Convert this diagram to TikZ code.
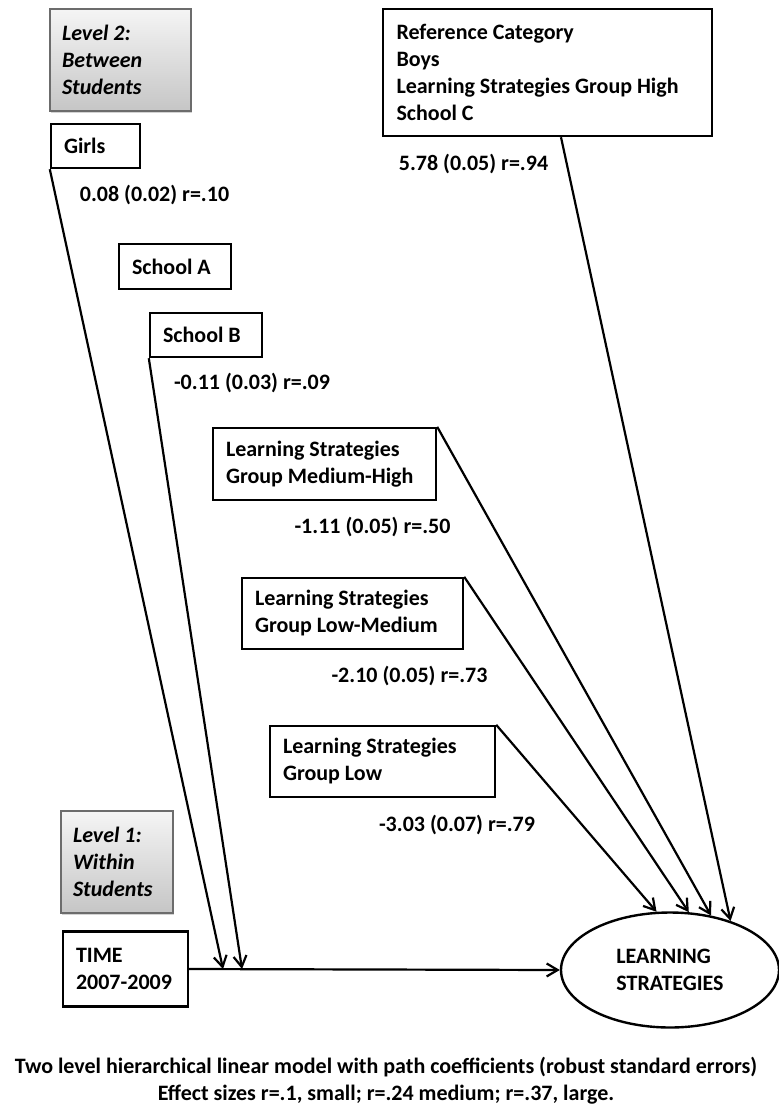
\documentclass[tikz,border=0pt]{standalone}
\usepackage{fontspec}
\setmainfont{Carlito}
\usetikzlibrary{arrows.meta,shadows,shapes.geometric}

\tikzset{
  varbox/.style={draw, line width=2.4pt, align=flush left, inner xsep=13pt, inner ysep=4pt},
  levelbox/.style={draw=gray!85!black, line width=1.4pt, align=flush left, inner xsep=12pt,
    top color=gray!8, bottom color=gray!45,
    drop shadow={shadow xshift=1pt, shadow yshift=-2pt, opacity=0.35},
    font=\fontsize{22}{27}\selectfont\bfseries\itshape},
  coef/.style={inner sep=0pt},
  effect/.style={line width=2.2pt, -{Straight Barb[length=11pt, width=13pt, line width=2.2pt]}}
}

\begin{document}
\begin{tikzpicture}[x=1pt, y=-1pt, font=\fontsize{22}{27}\selectfont\bfseries]
	\useasboundingbox (0,0) rectangle (779,1106);
	% level boxes
	\node[levelbox, minimum width=141, minimum height=102, text width=117] (lvltwo) at (120.5,60) {Level 2:\\Between\\Students};
	\node[levelbox, minimum width=112, minimum height=102, text width=88] (lvlone) at (117,862) {Level 1:\\Within\\Students};
	% predictors
	\node[varbox, minimum width=89, minimum height=44, text width=63] (girls) at (95.5,146) {Girls};
	\node[varbox, minimum width=112, minimum height=45, text width=86] (schoola) at (175,266.5) {School A};
	\node[varbox, minimum width=112, minimum height=44, text width=86] (schoolb) at (206,335) {School B};
	\node[varbox, minimum width=223, minimum height=72, text width=197] (medhigh) at (324.5,464) {Learning Strategies\\Group Medium-High};
	\node[varbox, minimum width=221, minimum height=71, text width=195] (lowmed) at (352.5,613.5) {Learning Strategies\\Group Low-Medium};
	\node[varbox, minimum width=225, minimum height=71, text width=199] (low) at (382.5,761.5) {Learning Strategies\\Group Low};
	\node[varbox, minimum width=329, minimum height=127, text width=302, inner xsep=13.5pt] (refcat) at (547.5,72.5) {Reference Category\\Boys\\Learning Strategies Group High\\School C};
	\node[varbox, minimum width=125, minimum height=75, text width=99] (time) at (125.5,969) {TIME\\2007-2009};
	% outcome
	\node[draw, ellipse, line width=2.4pt, minimum width=218, minimum height=115, align=flush left] (ls) at (670,970) {LEARNING\\STRATEGIES};
	% coefficients
	\node[coef] (cgirls) at (154.5,195) {0.08 (0.02) r=.10};
	\node[coef] (cschoolb) at (252,383) {-0.11 (0.03) r=.09};
	\node[coef] (crefcat) at (473.5,164) {5.78 (0.05) r=.94};
	\node[coef] (cmedhigh) at (372.5,527) {-1.11 (0.05) r=.50};
	\node[coef] (clowmed) at (409.5,676) {-2.10 (0.05) r=.73};
	\node[coef] (clow) at (457,825) {-3.03 (0.07) r=.79};
	% paths
	\coordinate (hitgirls) at (223,969);
	\coordinate (hitschoolb) at (242,969);
	\draw[effect] (time.east) -- (ls.west);
	\draw[effect] (girls.south west) -- (hitgirls);
	\draw[effect] (schoolb.south west) -- (hitschoolb);
	\draw[effect] (low.north east) -- (ls.103);
	\draw[effect] (lowmed.north east) -- (ls.72);
	\draw[effect] (medhigh.north east) -- (ls.53);
	\draw[effect] ([xshift=13.5pt]refcat.south) -- (ls.39);
	% caption
	\node[align=center] (caption) at (386,1081) {Two level hierarchical linear model with path coefficients (robust standard errors)\\Effect sizes r=.1, small; r=.24 medium; r=.37, large.};
\end{tikzpicture}
\end{document}
